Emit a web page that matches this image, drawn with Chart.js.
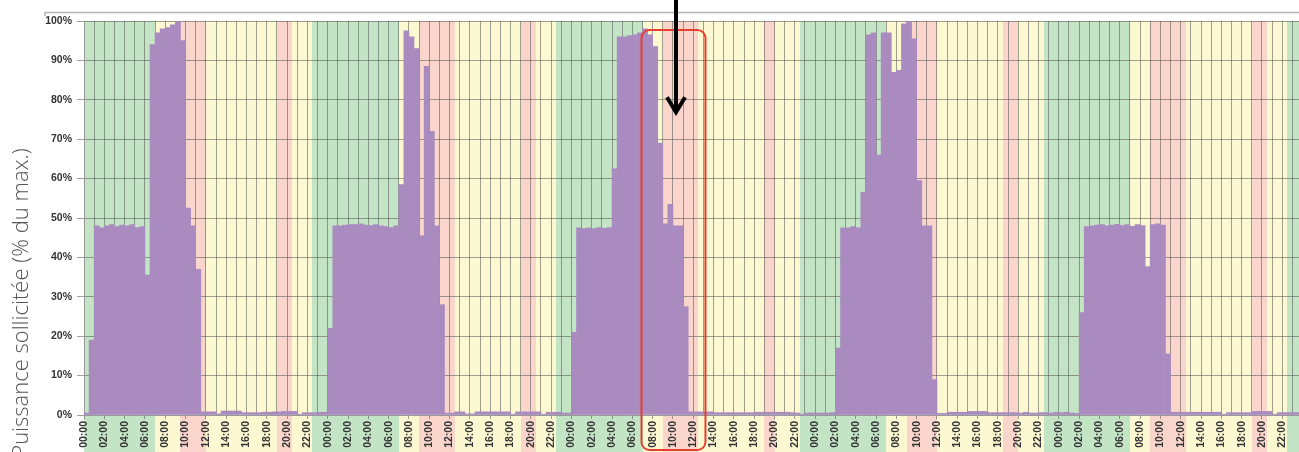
<!DOCTYPE html>
<html lang="fr">
<head>
<meta charset="utf-8">
<title>Puissance sollicitée</title>
<script src="https://cdn.jsdelivr.net/npm/chart.js@4.4.1/dist/chart.umd.min.js"></script>
<style>
  html, body { margin: 0; padding: 0; background: #fff; }
  #wrap { position: relative; width: 1299px; height: 452px; }
</style>
</head>
<body>
<div id="wrap"><canvas id="powerChart"></canvas></div>
<script>
// tick labels every two hours
const timeLabels = ["00:00", "02:00", "04:00", "06:00", "08:00", "10:00",
  "12:00", "14:00", "16:00", "18:00", "20:00", "22:00"];

// demanded power, % of max, one value per half hour (48 per day)
const day1 = [0.5, 19, 48, 47.5, 48, 48.3, 47.8, 48.2, 48, 48.3, 47.6, 47.8,
  35.5, 94, 97, 98, 98.3, 99, 100, 95, 52.5, 48, 37, 0.8,
  0.8, 0.8, 0.3, 1, 1, 1, 1, 0.6, 0.6, 0.6, 0.6, 0.7,
  0.7, 0.8, 0.8, 0.9, 0.9, 0.9, 0.2, 0.6, 0.6, 0.6, 0.7, 0.7];
const day2 = [22, 48, 48, 48.2, 48.3, 48.3, 48.5, 48.2, 48.1, 48.3, 48, 47.8,
  47.6, 48, 58.5, 97.5, 96, 93, 45.5, 88.5, 72, 48, 28, 0.5,
  0.5, 0.8, 0.8, 0.3, 0.3, 0.8, 0.8, 0.8, 0.8, 0.8, 0.8, 0.8,
  0.2, 0.8, 0.8, 0.8, 0.8, 0.8, 0.2, 0.7, 0.7, 0.7, 0.5, 0.5];
const day3 = [21, 47.5, 47.3, 47.5, 47.3, 47.6, 47.4, 47.6, 62.5, 96, 96, 96.3,
  96.5, 97, 98, 96.5, 93.5, 69, 48.5, 53.5, 48, 48, 27.5, 0.8,
  0.8, 0.8, 0.8, 0.8, 0.6, 0.6, 0.6, 0.6, 0.6, 0.6, 0.6, 0.6,
  0.7, 0.7, 0.7, 0.7, 0.7, 0.7, 0.7, 0.6, 0.5, 0.2, 0.5, 0.5];
const day4 = [0.5, 0.5, 0.5, 0.6, 17, 47.5, 47.5, 47.8, 47.5, 56.5, 96.5, 97,
  66, 97, 97, 87, 87.5, 99.3, 99.8, 95.5, 59.5, 48, 48, 9,
  0.4, 0.4, 0.7, 0.7, 0.7, 0.7, 0.9, 0.9, 0.9, 0.9, 0.6, 0.6,
  0.6, 0.6, 0.6, 0.6, 0.5, 0.7, 0.5, 0.5, 0.6, 0.6, 0.5, 0.7];
const day5 = [0.6, 0.7, 0.5, 0.4, 26, 47.8, 48, 48.2, 48.3, 48, 48.2, 48.4,
  48.1, 48.3, 47.9, 48.3, 48.1, 37.7, 48.3, 48.5, 48.2, 15.5, 0.7, 0.7,
  0.7, 0.7, 0.7, 0.7, 0.7, 0.7, 0.7, 0.7, 0.2, 0.6, 0.6, 0.6,
  0.6, 0.6, 0.9, 0.9, 0.9, 0.9, 0.2, 0.6, 0.6, 0.6, 0.6, 0.6];
const days = [day1, day2, day3, day4, day5];

// tariff periods per day: [period, from hour, to hour]
const periods1 = [["off", 0, 7], ["normal", 7, 9.5], ["peak", 9.5, 12], ["normal", 12, 19],
  ["peak", 19, 20.5], ["normal", 20.5, 22.5], ["off", 22.5, 24]];
const periods2 = [["off", 0, 7], ["normal", 7, 9], ["peak", 9, 12.5], ["normal", 12.5, 19],
  ["peak", 19, 20.5], ["normal", 20.5, 22.5], ["off", 22.5, 24]];
const periods3 = [["off", 0, 7], ["normal", 7, 9], ["peak", 9, 12.5], ["normal", 12.5, 19],
  ["peak", 19, 20], ["normal", 20, 22.5], ["off", 22.5, 24]];
const periods4 = [["off", 0, 7], ["normal", 7, 9], ["peak", 9, 12], ["normal", 12, 18.5],
  ["peak", 18.5, 20], ["normal", 20, 22.5], ["off", 22.5, 24]];
const periods5 = [["off", 0, 7], ["normal", 7, 9], ["peak", 9, 12.5], ["normal", 12.5, 19],
  ["peak", 19, 20.5], ["normal", 20.5, 22.5], ["off", 22.5, 24]];
const tariffDays = [periods1, periods2, periods3, periods4, periods5];

const BAND_COLORS = { off: "#c4e4c6", normal: "#fbf8d2", peak: "#f9d5cc" };
const GRID_COLOR = "rgba(70, 70, 70, 0.5)";
const TEXT_COLOR = "#333";
const HOURS_SHOWN = 119.65;

// highlighted window on day 3 (hours from the first midnight)
const focusFrom = 54.9;
const focusTo = 61.2;
const focusTop = 97.7;
const arrowHour = 58.3;
const arrowTip = 76.6;

const points = days.flatMap((values, d) =>
  values.map((value, i) => ({ x: d * 24 + i * 0.5 + 0.25, y: value }))
);

const backdrop = {
  id: "backdrop",
  beforeDraw(chart) {
    const { ctx, chartArea } = chart;
    const x = chart.scales.x;
    ctx.save();
    tariffDays.forEach((periods, d) => {
      periods.forEach(([type, from, to]) => {
        const left = Math.max(chartArea.left, Math.round(x.getPixelForValue(d * 24 + from)));
        const right = Math.min(chartArea.right, Math.round(x.getPixelForValue(d * 24 + to)));
        if (right <= left) return;
        ctx.fillStyle = BAND_COLORS[type];
        ctx.fillRect(left, chartArea.top, right - left, chart.height - chartArea.top);
      });
    });

    // outer frame edge at the top
    ctx.strokeStyle = "#b4b4b4";
    ctx.lineWidth = 1.5;
    ctx.beginPath();
    ctx.moveTo(45, 16);
    ctx.lineTo(45, 12.5);
    ctx.lineTo(chart.width, 12.5);
    ctx.stroke();
    ctx.restore();
  },
  afterDraw(chart) {
    const { ctx } = chart;
    const { x, y } = chart.scales;
    ctx.save();

    // red rounded box
    const left = x.getPixelForValue(focusFrom);
    const right = x.getPixelForValue(focusTo);
    const top = y.getPixelForValue(focusTop);
    const bottom = chart.height - 2;
    const r = 8;
    ctx.strokeStyle = "#e5402f";
    ctx.lineWidth = 2;
    ctx.beginPath();
    ctx.moveTo(left + r, top);
    ctx.arcTo(right, top, right, bottom, r);
    ctx.arcTo(right, bottom, left, bottom, r);
    ctx.arcTo(left, bottom, left, top, r);
    ctx.arcTo(left, top, right, top, r);
    ctx.closePath();
    ctx.stroke();

    // black arrow
    const ax = x.getPixelForValue(arrowHour);
    const tip = y.getPixelForValue(arrowTip);
    ctx.strokeStyle = "#000";
    ctx.lineWidth = 4;
    ctx.beginPath();
    ctx.moveTo(ax, 0);
    ctx.lineTo(ax, tip - 2);
    ctx.stroke();
    ctx.beginPath();
    ctx.moveTo(ax - 9, tip - 16);
    ctx.lineTo(ax, tip - 1);
    ctx.lineTo(ax + 9, tip - 16);
    ctx.stroke();

    // axis title
    ctx.translate(28, 303);
    ctx.rotate(-Math.PI / 2);
    ctx.font = '300 22px "Open Sans"';
    ctx.fillStyle = "#555";
    ctx.textAlign = "center";
    ctx.textBaseline = "alphabetic";
    ctx.fillText("Puissance sollicitée (% du max.)", 0, 0);
    ctx.restore();
  },
};

new Chart(document.querySelector("#powerChart"), {
  type: "bar",
  data: {
    datasets: [
      {
        data: points,
        backgroundColor: "#a98bc0",
        borderWidth: 0,
        barPercentage: 1,
        categoryPercentage: 1,
      },
    ],
  },
  options: {
    responsive: true,
    maintainAspectRatio: false,
    animation: false,
    layout: { padding: { top: 21, right: 0, bottom: 0, left: 0 } },
    plugins: {
      legend: { display: false },
      tooltip: { enabled: false },
    },
    scales: {
      x: {
        type: "linear",
        min: 0,
        max: HOURS_SHOWN,
        offset: false,
        afterBuildTicks: (axis) => {
          axis.ticks = Array.from({ length: 120 }, (_, h) => ({ value: h }));
        },
        afterFit: (axis) => {
          axis.height = 37;
          axis.paddingLeft = 0;
          axis.paddingRight = 0;
        },
        grid: {
          offset: false,
          color: GRID_COLOR,
          tickLength: 4,
          tickColor: (ctx) => (ctx.tick && ctx.tick.value % 2 === 0 ? GRID_COLOR : "transparent"),
        },
        border: { color: "#999" },
        ticks: {
          autoSkip: false,
          minRotation: 90,
          maxRotation: 90,
          padding: 2,
          color: TEXT_COLOR,
          font: { family: '"Liberation Sans", Arial, sans-serif', size: 10.5, weight: "bold" },
          callback: (value) => (value % 2 === 0 ? timeLabels[(value % 24) / 2] : ""),
        },
      },
      y: {
        min: 0,
        max: 100,
        afterFit: (axis) => {
          axis.width = 84;
        },
        grid: { color: GRID_COLOR, tickLength: 7 },
        border: { color: "#999" },
        ticks: {
          stepSize: 10,
          padding: 5,
          color: TEXT_COLOR,
          font: { family: '"Liberation Sans", Arial, sans-serif', size: 10.5, weight: "bold" },
          callback: (value) => `${value}%`,
        },
      },
    },
  },
  plugins: [backdrop],
});
</script>
</body>
</html>
